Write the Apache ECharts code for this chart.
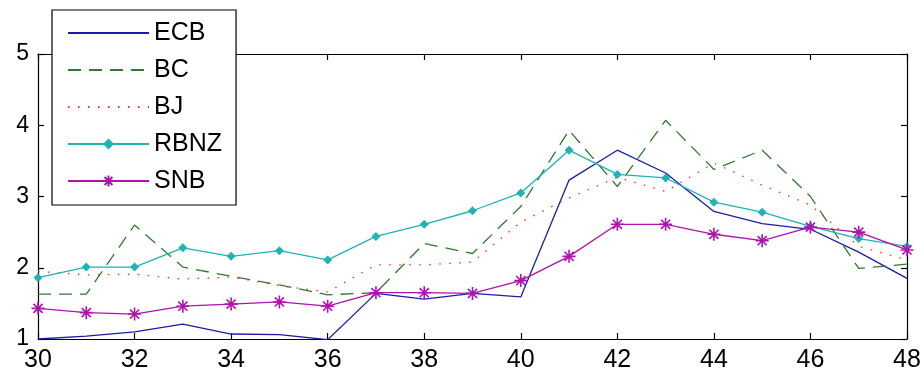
<!DOCTYPE html>
<html><head><meta charset="utf-8">
<script src="https://cdn.jsdelivr.net/npm/echarts@6/dist/echarts.min.js"></script>
<style>html,body{margin:0;padding:0;background:#fff}#c{width:924px;height:376px}</style>
</head><body><div id="c"></div>
<script>
const xValues = [30,31,32,33,34,35,36,37,38,39,40,41,42,43,44,45,46,47,48];
const ECB  = [1.00,1.04,1.10,1.21,1.07,1.06,0.99,1.64,1.56,1.64,1.59,3.23,3.65,3.33,2.79,2.62,2.54,2.22,1.85];
const BC   = [1.63,1.63,2.60,2.01,1.88,1.76,1.62,1.65,2.34,2.20,2.86,3.93,3.14,4.07,3.38,3.65,3.00,1.99,2.05];
const BJ   = [1.95,1.90,1.91,1.84,1.87,1.75,1.66,2.04,2.04,2.08,2.64,2.98,3.27,3.07,3.47,3.16,2.88,2.30,2.11];
const RBNZ = [1.86,2.01,2.01,2.28,2.16,2.24,2.11,2.44,2.61,2.80,3.05,3.65,3.31,3.26,2.92,2.78,2.58,2.41,2.30];
const SNB  = [1.43,1.37,1.35,1.46,1.49,1.52,1.46,1.65,1.65,1.64,1.82,2.16,2.61,2.61,2.47,2.38,2.57,2.50,2.25];
const seriesNames = ['ECB','BC','BJ','RBNZ','SNB'];

const pair = arr => xValues.map((x,i)=>[x,arr[i]]);
const star = 'path://M0,5L10,5M5,0L5,10M1.5,1.5L8.5,8.5M8.5,1.5L1.5,8.5';
const font = 'Liberation Sans, Arial, sans-serif';
const axCommon = {
  axisLine:{show:true,onZero:false,lineStyle:{color:'#000',width:1.2}},
  axisTick:{show:true,inside:true,length:6,lineStyle:{color:'#000',width:1.2}},
  splitLine:{show:false}
};
const noSymbol = ['ECB','BC','BJ'];
const chart = echarts.init(document.getElementById('c'));
chart.setOption({
  animation:false,
  backgroundColor:'#fff',
  grid:{left:38,right:17,top:54,bottom:37,containLabel:false},
  legend:{
    orient:'vertical', left:52, top:10,
    padding:[10,14,11,15],
    backgroundColor:'#fff', borderColor:'#000', borderWidth:1.2,
    itemWidth:81, itemHeight:14, itemGap:11,
    textStyle:{fontFamily:font,fontSize:25,color:'#000',lineHeight:26},
    data:seriesNames.map(n => noSymbol.includes(n) ? {name:n,itemStyle:{opacity:0}} : {name:n})
  },
  xAxis:[
    Object.assign({type:'value',min:30,max:48,interval:2,position:'bottom',
      axisLabel:{fontFamily:font,fontSize:25,color:'#000',margin:9}},axCommon),
    Object.assign({type:'value',min:30,max:48,interval:2,position:'top',
      axisLabel:{show:false}},axCommon)
  ],
  yAxis:[
    Object.assign({type:'value',min:1,max:5,interval:1,position:'left',
      axisLabel:{fontFamily:font,fontSize:23,color:'#000',margin:9}},axCommon),
    Object.assign({type:'value',min:1,max:5,interval:1,position:'right',
      axisLabel:{show:false}},axCommon)
  ],
  series:[
    {name:'ECB',type:'line',data:pair(ECB),symbol:'none',clip:true,
     lineStyle:{color:'#1c1ca8',width:1.3},itemStyle:{color:'#1c1ca8'}},
    {name:'BC',type:'line',data:pair(BC),symbol:'none',clip:true,
     lineStyle:{color:'#2f7a2f',width:1.3,type:[13,8]},itemStyle:{color:'#2f7a2f'}},
    {name:'BJ',type:'line',data:pair(BJ),symbol:'none',clip:true,
     lineStyle:{color:'#e0302a',width:1.3,type:[1.5,8.5]},itemStyle:{color:'#e0302a'}},
    {name:'RBNZ',type:'line',data:pair(RBNZ),symbol:'diamond',symbolSize:9,clip:true,
     lineStyle:{color:'#1fb3b3',width:1.3},itemStyle:{color:'#1fb3b3'}},
    {name:'SNB',type:'line',data:pair(SNB),symbol:star,symbolSize:13,clip:true,
     lineStyle:{color:'#b012b0',width:1.3},
     itemStyle:{color:'#b012b0',borderColor:'#b012b0',borderWidth:1.6}}
  ]
});
</script></body></html>
